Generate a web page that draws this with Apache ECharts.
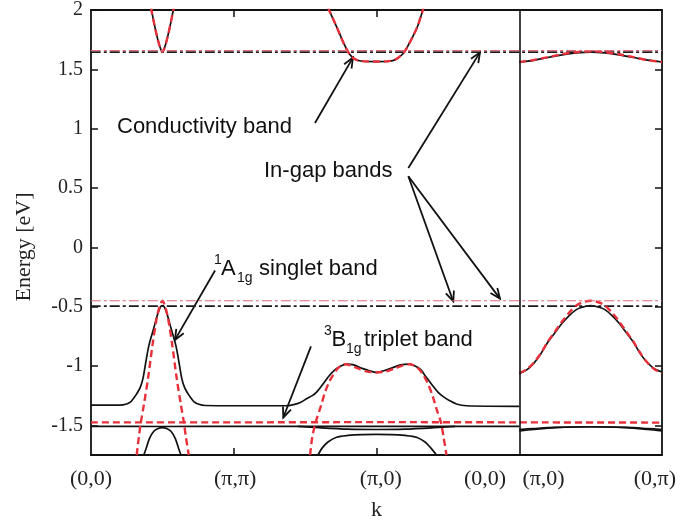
<!DOCTYPE html>
<html><head><meta charset="utf-8">
<script src="https://cdn.jsdelivr.net/npm/echarts@6/dist/echarts.min.js"></script>
<style>html,body{margin:0;padding:0;background:#fff}#c{width:694px;height:526px}</style>
</head><body><div id="c"></div>
<script>
// ---------- axes ----------
const xTickLabels = ['(0,0)', '(π,π)', '(π,0)', '(0,0)', '(π,0)', '(0,π)'];
const xLabelPos   = [0, 1.01, 2.03, 2.76, 3.17, 3.95];
const xTickPos    = [1, 2];
const yTicks      = [-1.5, -1, -0.5, 0, 0.5, 1, 1.5, 2];
const panelDivider = 3;

// ---------- in-gap (dash-dot) bands ----------
const inGapX          = [0, 4];
const inGapUpperBlack = [1.645, 1.645];
const inGapUpperRed   = [1.658, 1.658];
const inGapLowerBlack = [-0.495, -0.495];
const inGapLowerRed   = [-0.45, -0.45];

// ---------- conductivity band ----------
const condVX     = [0.42, 0.44, 0.46, 0.475, 0.49, 0.5, 0.51, 0.525, 0.54, 0.56, 0.58];
const condVBlack = [2.02, 1.9, 1.79, 1.72, 1.665, 1.645, 1.665, 1.72, 1.79, 1.9, 2.02];
const condVRed   = [2.02, 1.9, 1.79, 1.72, 1.665, 1.648, 1.665, 1.72, 1.79, 1.9, 2.02];
const condUX     = [1.66, 1.69, 1.72, 1.745, 1.77, 1.795, 1.82, 1.85, 1.88, 1.93, 2.0, 2.07, 2.12, 2.15, 2.18, 2.205, 2.23, 2.26, 2.29, 2.33];
const condUBlack = [2.02, 1.94, 1.86, 1.79, 1.72, 1.66, 1.615, 1.585, 1.572, 1.566, 1.565, 1.566, 1.575, 1.595, 1.625, 1.665, 1.72, 1.79, 1.87, 2.02];
const condURed   = [2.02, 1.94, 1.86, 1.79, 1.72, 1.66, 1.615, 1.585, 1.572, 1.567, 1.566, 1.567, 1.576, 1.596, 1.626, 1.665, 1.72, 1.79, 1.87, 2.02];
const condRX     = [3.0, 3.1, 3.2, 3.3, 3.4, 3.5, 3.6, 3.7, 3.8, 3.9, 4.0];
const condRBlack = [1.56, 1.575, 1.6, 1.622, 1.638, 1.645, 1.638, 1.622, 1.6, 1.578, 1.562];
const condRRed   = [1.562, 1.578, 1.603, 1.627, 1.645, 1.652, 1.645, 1.627, 1.603, 1.578, 1.562];

// ---------- 1A1g singlet band ----------
const singBX = [0, 0.2, 0.25, 0.28, 0.3, 0.32, 0.345, 0.365, 0.385, 0.405, 0.44, 0.465, 0.485, 0.5, 0.515, 0.535, 0.56, 0.595, 0.615, 0.635, 0.655, 0.68, 0.7, 0.72, 0.75, 0.8, 1.0, 1.36, 1.42, 1.47, 1.51, 1.55, 1.58, 1.62, 1.67, 1.71, 1.75, 1.79, 1.84, 1.9, 1.95, 2.0, 2.05, 2.1, 2.17, 2.23, 2.27, 2.31, 2.34, 2.39, 2.43, 2.47, 2.51, 2.56, 2.63, 3.0];
const singBY = [-1.33, -1.33, -1.32, -1.3, -1.27, -1.235, -1.18, -1.1, -0.96, -0.83, -0.68, -0.57, -0.505, -0.49, -0.505, -0.57, -0.68, -0.83, -0.96, -1.1, -1.18, -1.235, -1.27, -1.3, -1.32, -1.333, -1.335, -1.335, -1.325, -1.305, -1.276, -1.25, -1.22, -1.16, -1.08, -1.03, -1.0, -0.985, -0.99, -1.02, -1.04, -1.053, -1.04, -1.02, -0.99, -0.985, -1.0, -1.03, -1.08, -1.16, -1.22, -1.26, -1.29, -1.32, -1.335, -1.34];
const singR1X = [0.32, 0.335, 0.35, 0.37, 0.4, 0.43, 0.46, 0.48, 0.5, 0.52, 0.54, 0.57, 0.6, 0.63, 0.65, 0.665, 0.685];
const singR1Y = [-1.75, -1.6, -1.47, -1.33, -1.1, -0.83, -0.6, -0.5, -0.45, -0.5, -0.6, -0.83, -1.1, -1.33, -1.47, -1.6, -1.75];
const singR2X = [1.535, 1.55, 1.575, 1.61, 1.64, 1.67, 1.70, 1.725, 1.75, 1.78, 1.82, 1.87, 1.93, 2.0, 2.07, 2.13, 2.185, 2.23, 2.27, 2.3, 2.33, 2.36, 2.39, 2.42, 2.45, 2.47, 2.49];
const singR2Y = [-1.75, -1.6, -1.47, -1.34, -1.22, -1.13, -1.07, -1.025, -1.0, -0.985, -0.995, -1.02, -1.045, -1.055, -1.045, -1.02, -0.995, -0.985, -1.0, -1.03, -1.08, -1.15, -1.24, -1.36, -1.47, -1.6, -1.75];
const singRX     = [3.0, 3.05, 3.1, 3.15, 3.2, 3.25, 3.3, 3.35, 3.4, 3.44, 3.5, 3.56, 3.6, 3.65, 3.7, 3.75, 3.8, 3.85, 3.9, 3.95, 4.0];
const singRBlack = [-1.065, -1.035, -0.98, -0.9, -0.8, -0.72, -0.64, -0.575, -0.525, -0.505, -0.49, -0.505, -0.525, -0.575, -0.64, -0.72, -0.8, -0.9, -0.975, -1.025, -1.05];
const singRRed   = [-1.06, -1.03, -0.975, -0.895, -0.795, -0.71, -0.625, -0.55, -0.49, -0.465, -0.45, -0.465, -0.49, -0.55, -0.625, -0.71, -0.795, -0.895, -0.975, -1.03, -1.06];

// ---------- 3B1g triplet band and lower band ----------
const tripRedX   = [0, 1, 2, 3, 4];
const tripRedY   = [-1.475, -1.475, -1.473, -1.475, -1.477];
const tripBlkX   = [0, 0.5, 1.0, 1.5, 2.0, 2.5, 3.0];
const tripBlkY   = [-1.508, -1.51, -1.508, -1.508, -1.508, -1.508, -1.508];
const tripBlk2X  = [1.45, 1.6, 1.8, 2.0, 2.2, 2.4, 2.55];
const tripBlk2Y  = [-1.508, -1.52, -1.532, -1.535, -1.532, -1.52, -1.508];
const tripRBlkX  = [3.0, 3.1, 3.25, 3.5, 3.75, 3.9, 4.0];
const tripRBlkY  = [-1.535, -1.527, -1.517, -1.512, -1.517, -1.527, -1.535];
const tripRBlk2Y = [-1.548, -1.535, -1.52, -1.512, -1.52, -1.535, -1.548];
const lowAX = [0.37, 0.385, 0.41, 0.44, 0.47, 0.5, 0.53, 0.56, 0.59, 0.615, 0.63];
const lowAY = [-1.75, -1.7, -1.61, -1.55, -1.527, -1.52, -1.527, -1.55, -1.61, -1.7, -1.75];
const lowBX = [1.59, 1.62, 1.66, 1.72, 1.8, 1.9, 2.0, 2.1, 2.2, 2.28, 2.34, 2.38, 2.42];
const lowBY = [-1.75, -1.69, -1.64, -1.6, -1.585, -1.578, -1.577, -1.578, -1.585, -1.6, -1.64, -1.69, -1.75];

// ---------- annotation arrows (data units: start, tip) ----------
const arrows = [
  [[1.569, 1.048], [1.835, 1.599]],
  [[2.223, 0.669], [2.725, 1.643]],
  [[2.223, 0.599], [2.538, -0.456]],
  [[2.223, 0.599], [2.865, -0.432]],
  [[0.869, -0.195], [0.588, -0.78]],
  [[1.541, -0.835], [1.347, -1.434]]
];

const BLK = {color: '#111', width: 1.7, type: 'solid'};
const RED = {color: '#e8303a', width: 2.4, type: [7, 4]};
const BLKDD = {color: '#1a1a1a', width: 1.8, type: [10, 3, 3, 3]};
const REDDD = {color: '#e0687a', width: 1.2, type: [10, 3, 3, 3]};

function ln(xs, ys, style, z) {
  return {type: 'line', data: xs.map((x, i) => [x, ys[i]]), showSymbol: false, symbol: 'none',
    smooth: 0.3, lineStyle: style, silent: true, animation: false, z: z || 2};
}

const series = [
  ln(singBX, singBY, BLK),
  ln(condVX, condVBlack, BLK),
  ln(condUX, condUBlack, BLK),
  ln(condRX, condRBlack, BLK),
  ln(singRX, singRBlack, BLK),
  ln(tripBlkX, tripBlkY, BLK),
  ln(tripBlk2X, tripBlk2Y, BLK),
  ln(tripRBlkX, tripRBlkY, BLK),
  ln(tripRBlkX, tripRBlk2Y, BLK),
  ln(lowAX, lowAY, BLK),
  ln(lowBX, lowBY, BLK),
  ln(inGapX, inGapUpperBlack, BLKDD, 3),
  ln(inGapX, inGapLowerBlack, BLKDD, 3),
  ln(condVX, condVRed, RED, 4),
  ln(condUX, condURed, RED, 4),
  ln(condRX, condRRed, RED, 4),
  ln(singR1X, singR1Y, RED, 4),
  ln(singR2X, singR2Y, RED, 4),
  ln(singRX, singRRed, RED, 4),
  ln(tripRedX, tripRedY, RED, 4),
  ln(inGapX, inGapUpperRed, REDDD, 5),
  ln(inGapX, inGapLowerRed, REDDD, 5),
  {type: 'line', data: [], silent: true, animation: false,
    markLine: {silent: true, symbol: 'none', animation: false, label: {show: false},
      lineStyle: {color: '#111', width: 1.6, type: 'solid'},
      data: [{xAxis: panelDivider}]}}
];

const axisCommon = {
  type: 'value', min: 0, max: 4,
  axisLine: {show: true, onZero: false, lineStyle: {color: '#111', width: 1.8}},
  splitLine: {show: false}
};
const yCommon = {
  type: 'value', min: -1.75, max: 2,
  axisLine: {show: true, onZero: false, lineStyle: {color: '#111', width: 1.8}},
  splitLine: {show: false},
  axisTick: {show: true, inside: true, length: 7, customValues: yTicks, lineStyle: {color: '#111', width: 1.5}}
};

const option = {
  backgroundColor: '#fff',
  animation: false,
  grid: {left: 91, right: 32, top: 9, bottom: 69, containLabel: false},
  xAxis: [
    Object.assign({}, axisCommon, {
      position: 'bottom',
      axisTick: {show: true, inside: true, length: 7, customValues: xTickPos, lineStyle: {color: '#111', width: 1.5}},
      axisLabel: {show: true, customValues: xLabelPos, margin: 13, color: '#222',
        fontFamily: 'Liberation Serif', fontSize: 22,
        formatter: function (v) {
          const i = xLabelPos.findIndex(p => Math.abs(p - v) < 1e-6);
          return i >= 0 ? xTickLabels[i] : '';
        }},
      name: 'k', nameLocation: 'middle', nameGap: 44,
      nameTextStyle: {fontFamily: 'Liberation Serif', fontSize: 22, color: '#222'}
    }),
    Object.assign({}, axisCommon, {
      position: 'top',
      axisTick: {show: true, inside: true, length: 7, customValues: xTickPos, lineStyle: {color: '#111', width: 1.5}},
      axisLabel: {show: false}
    })
  ],
  yAxis: [
    Object.assign({}, yCommon, {
      position: 'left',
      axisLabel: {show: true, customValues: yTicks, margin: 8, color: '#222',
        fontFamily: 'Liberation Serif', fontSize: 20}
    }),
    Object.assign({}, yCommon, {position: 'right', axisLabel: {show: false}})
  ],
  series: series
};

const chart = echarts.init(document.getElementById('c'), null, {renderer: 'canvas'});
chart.setOption(option);

function px(p) { return chart.convertToPixel({xAxisIndex: 0, yAxisIndex: 0}, p); }
const SANS = '22px "Liberation Sans", Arial, sans-serif';
const SMALL = '14px "Liberation Sans", Arial, sans-serif';
function txt(x, y, s, font) {
  return {type: 'text', x: x, y: y, silent: true,
    style: {text: s, font: font, fill: '#111', align: 'left', verticalAlign: 'middle'}};
}
const els = [
  txt(117, 127, 'Conductivity band', SANS),
  txt(264, 171, 'In-gap bands', SANS),
  txt(214, 260, '1', SMALL),
  txt(221, 269, 'A', SANS),
  txt(237, 278, '1g', SMALL),
  txt(259, 269, 'singlet band', SANS),
  txt(324, 331, '3', SMALL),
  txt(331.5, 340, 'B', SANS),
  txt(346, 349, '1g', SMALL),
  txt(364, 340, 'triplet band', SANS),
  {type: 'text', x: 24, y: 247, rotation: Math.PI / 2, silent: true,
    style: {text: 'Energy [eV]', font: '22px "Liberation Serif", serif', fill: '#222', align: 'center', verticalAlign: 'middle'}}
];
arrows.forEach(a => {
  const s = px(a[0]), t = px(a[1]);
  const ang = Math.atan2(t[1] - s[1], t[0] - s[0]);
  const L = 11, w = 0.4;
  const p1 = [t[0] - L * Math.cos(ang - w), t[1] - L * Math.sin(ang - w)];
  const p2 = [t[0] - L * Math.cos(ang + w), t[1] - L * Math.sin(ang + w)];
  els.push({type: 'line', silent: true, shape: {x1: s[0], y1: s[1], x2: t[0], y2: t[1]}, style: {stroke: '#111', lineWidth: 1.8}});
  els.push({type: 'polyline', silent: true, shape: {points: [p1, t, p2]}, style: {stroke: '#111', lineWidth: 1.8, fill: null}});
});
chart.setOption({graphic: els});
</script></body></html>
